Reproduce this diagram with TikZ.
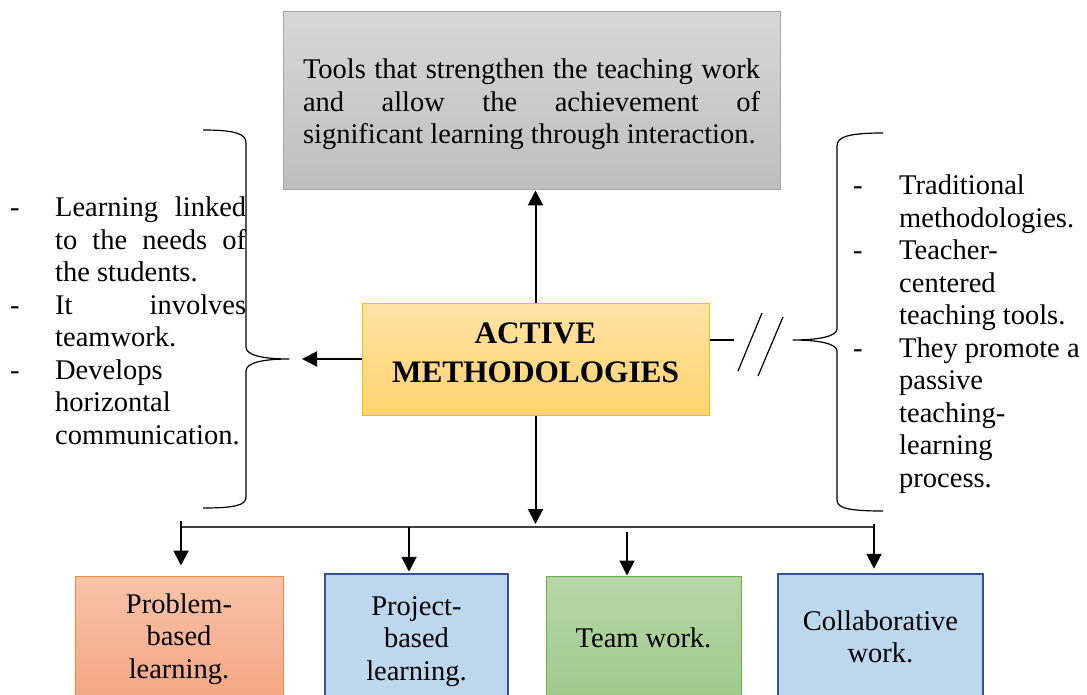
\documentclass[tikz,border=0pt]{standalone}
\usepackage{fontspec}
\setmainfont{Liberation Serif}
\usetikzlibrary{arrows.meta}

\definecolor{toolA}{HTML}{D7D7D7}
\definecolor{toolB}{HTML}{BEBEBE}
\definecolor{toolline}{HTML}{A6A6A6}
\definecolor{activeA}{HTML}{FFE3A6}
\definecolor{activeB}{HTML}{FFD36E}
\definecolor{activeline}{HTML}{FFC000}
\definecolor{probA}{HTML}{F8C3A8}
\definecolor{probB}{HTML}{F4A582}
\definecolor{probline}{HTML}{F0883E}
\definecolor{bluefill}{HTML}{BDD7EE}
\definecolor{blueline}{HTML}{2F5597}
\definecolor{teamA}{HTML}{B7D7A8}
\definecolor{teamB}{HTML}{9FC98A}
\definecolor{teamline}{HTML}{70AD47}
\definecolor{busgray}{HTML}{404040}

\newcommand{\mainsize}{\fontsize{28.5pt}{32.5pt}\selectfont\spaceskip=0.25em plus 0.125em minus 0.03em\relax}
\newcommand{\headsize}{\fontsize{31.3pt}{39pt}\selectfont}
\newcommand{\dashitem}[2]{\hangindent=#1\hangafter=1\noindent\makebox[#1][l]{-}#2\par}
\tolerance=10000
\hyphenpenalty=10000

\begin{document}
\begin{tikzpicture}[x=1pt,y=-1pt,
    box/.style={rectangle, inner sep=0pt, font=\mainsize, align=center},
    list/.style={inner sep=0pt, font=\mainsize, anchor=base west},
    arr/.style={line width=2pt, -{Triangle[length=15pt,width=15pt]}},
    brace/.style={line width=1.2pt, line join=round}]
    \useasboundingbox (0,0) rectangle (1087,695);
    \clip (0,0) rectangle (1087,695);

    % main boxes
    \node[box, draw=toolline, line width=1pt, top color=toolA, bottom color=toolB,
          minimum width=497pt, minimum height=178pt, text width=457pt, align=justify,
          text height=20pt, text depth=64pt] (tools) at (531.5,101)
          {\spaceskip=0.25em plus 0.125em minus 0.08em
           Tools that strengthen the teaching work\linebreak
           and allow the achievement of\linebreak
           significant learning through interaction.};
    \node[box, draw=activeline, line width=1pt, top color=activeA, bottom color=activeB,
          minimum width=347pt, minimum height=112pt, font=\headsize\bfseries,
          text height=60pt, text depth=14pt] (active) at (535.5,359) {ACTIVE\\METHODOLOGIES};

    % side lists
    \node[list, text width=236pt, align=justify] (pros) at (10,217)
          {\dashitem{45pt}{Learning linked to the needs of the students.}%
           \dashitem{45pt}{It involves teamwork.}%
           \dashitem{45pt}{Develops horizontal communication.}};
    \node[list, text width=234pt, align=flush left] (cons) at (853,195)
          {\dashitem{46pt}{Traditional methodologies.}%
           \dashitem{46pt}{Teacher-centered teaching tools.}%
           \dashitem{46pt}{They promote a passive teaching-learning process.}};

    % bottom boxes
    \node[box, draw=probline, line width=1pt, top color=probA, bottom color=probB,
          minimum width=208pt, minimum height=130pt, text height=85pt, text depth=11pt] (prob) at (179,641) {Problem-\\based\\learning.};
    \node[box, draw=blueline, line width=2.5pt, fill=bluefill,
          minimum width=183pt, minimum height=132pt, text height=85pt, text depth=5pt] (proj) at (416.5,640) {Project-\\based\\learning.};
    \node[box, draw=teamline, line width=1pt, top color=teamA, bottom color=teamB,
          minimum width=195pt, minimum height=130pt, text height=20pt, text depth=8pt] (team) at (643.5,641) {Team work.};
    \node[box, draw=blueline, line width=2.5pt, fill=bluefill,
          minimum width=205pt, minimum height=132pt, text height=52.5pt, text depth=7.5pt] (collab) at (880.5,640) {Collaborative\\work.};

    % braces
    \coordinate (ltip) at (289,359);
    \coordinate (rtip) at (793,340);
    \draw[brace] (203,130) .. controls (236,130) and (246,134) .. (246,143) -- (246,347)
        .. controls (246,355) and (262,359) .. (ltip) .. controls (262,359) and (246,363) .. (246,371)
        -- (246,497) .. controls (246,505) and (236,508) .. (203,508);
    \draw[brace] (883,133) .. controls (848,133) and (837,137) .. (837,146) -- (837,329)
        .. controls (837,336) and (820,340) .. (rtip) .. controls (820,340) and (837,344) .. (837,351)
        -- (837,500) .. controls (837,508) and (848,511) .. (883,511);

    % connectors
    \draw[arr] (active.north) -- (active.north |- tools.south);
    \draw[arr, shorten >=13pt] (active.west) -- (ltip);
    \coordinate (cutend) at (734,340);
    \draw[line width=1.2pt] (active.east |- rtip) -- (cutend);
    \draw[line width=1.2pt] (738,371) -- (762,313);
    \draw[line width=1.2pt] (758,376) -- (783,317);

    \coordinate (busL) at (180,527);
    \coordinate (busR) at (874,527);
    \draw[line width=1.5pt, busgray] (busL) -- (busR);
    \draw[arr, shorten >=3pt] (active.south) -- (active.south |- busL);

    \coordinate (d1) at (181,521);
    \coordinate (d2) at (409,527);
    \coordinate (d3) at (627,532);
    \coordinate (d4) at (874,524);
    \draw[arr, shorten >=10pt] (d1) -- (d1 |- prob.north);
    \draw[arr, shorten >=1pt] (d2) -- (d2 |- proj.north);
    \draw[arr] (d3) -- (d3 |- team.north);
    \draw[arr, shorten >=4pt] (d4) -- (d4 |- collab.north);
\end{tikzpicture}
\end{document}
